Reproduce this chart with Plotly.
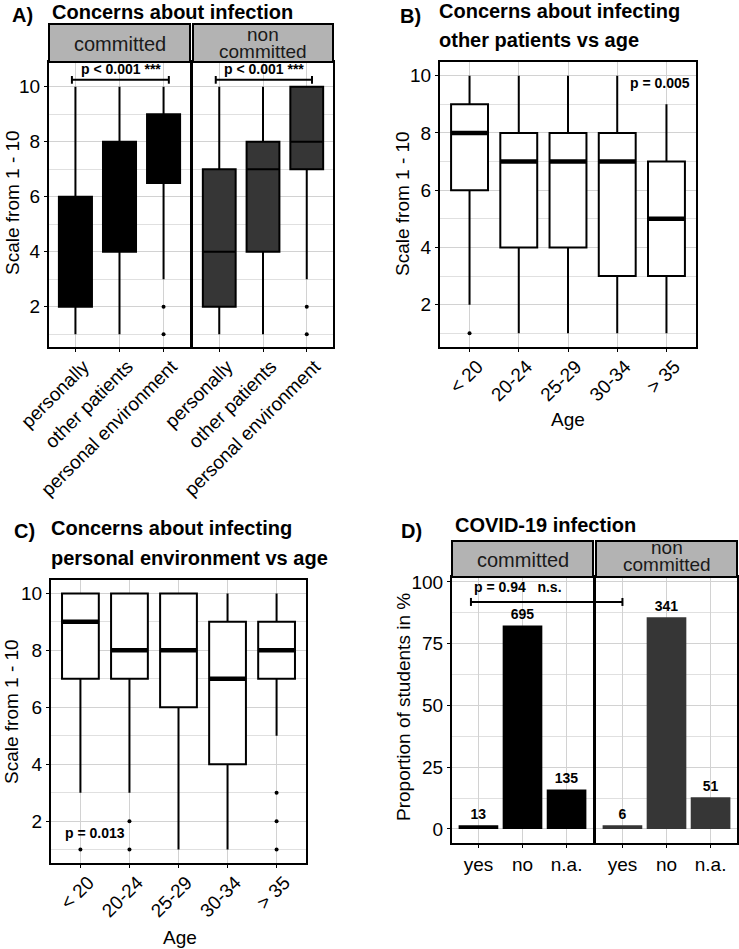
import plotly.graph_objects as go

W, H = 739, 949
FONT = "Liberation Sans, Arial, sans-serif"
GRID = "#d2d2d2"
MINOR = "#e0e0e0"
STRIP = "#b3b3b3"
DARK = "#363636"

# ---------------- data ----------------
a_labels = ["personally", "other patients", "personal environment"]
a_com_q1 = [2, 4, 6.5]
a_com_med = [4, 7, 8]
a_com_q3 = [6, 8, 9]
a_com_lo = [1, 1, 3]
a_com_hi = [10, 10, 10]
a_com_out_cat = [2, 2]
a_com_out_y = [2, 1]
a_non_q1 = [2, 4, 7]
a_non_med = [4, 7, 8]
a_non_q3 = [7, 8, 10]
a_non_lo = [1, 1, 3]
a_non_hi = [10, 10, 10]
a_non_out_cat = [2, 2]
a_non_out_y = [2, 1]

age_labels = ["< 20", "20-24", "25-29", "30-34", "> 35"]
b_q1 = [6, 4, 4, 3, 3]
b_med = [8, 7, 7, 7, 5]
b_q3 = [9, 8, 8, 8, 7]
b_lo = [2, 1, 1, 1, 1]
b_hi = [10, 10, 10, 10, 9]
b_out_cat = [0]
b_out_y = [1]

c_q1 = [7, 7, 6, 4, 7]
c_med = [9, 8, 8, 7, 8]
c_q3 = [10, 10, 10, 9, 9]
c_lo = [3, 3, 1, 1, 5]
c_hi = [10, 10, 10, 10, 10]
c_out_cat = [0, 1, 1, 4, 4, 4]
c_out_y = [1, 2, 1, 3, 2, 1]

d_labels = ["yes", "no", "n.a."]
d_com_counts = [13, 695, 135]
d_com_pct = [1.5, 82.4, 16.0]
d_non_counts = [6, 341, 51]
d_non_pct = [1.5, 85.7, 12.8]

# ---------------- layout geometry (pixels) ----------------
def px(x):
    return x / W

def py(y):
    return 1 - y / H

PAN = {
    "A1": ((49, 190), (62, 347), (-0.6, 2.6), (0.535, 10.9)),
    "A2": ((193, 333), (62, 347), (-0.6, 2.6), (0.535, 10.9)),
    "B": ((440, 696), (62, 347), (-0.6, 4.6), (0.52, 10.48)),
    "C": ((51, 306), (580, 863), (-0.6, 4.6), (0.53, 10.47)),
    "D1": ((452, 593), (577, 843), (-0.6, 2.6), (-5.7, 102.0)),
    "D2": ((596, 737), (577, 843), (-0.6, 2.6), (-5.7, 102.0)),
}


def to_paper_x(key, v):
    (x0, x1), _, (r0, r1), _ = PAN[key]
    return px(x0 + (v - r0) / (r1 - r0) * (x1 - x0))


def to_paper_y(key, v):
    _, (y0, y1), _, (r0, r1) = PAN[key]
    return py(y1 - (v - r0) / (r1 - r0) * (y1 - y0))


tickfont = dict(family=FONT, size=19, color="black")


def xaxis(key, labels, angle, anchor):
    (x0, x1), _, rng, _ = PAN[key]
    d = dict(domain=[px(x0), px(x1)], range=list(rng), anchor=anchor, automargin=False,
             tickmode="array", tickvals=list(range(len(labels))), ticktext=labels,
             tickangle=angle, showline=True, mirror=True, linecolor="black",
             linewidth=2, ticks="outside", ticklen=3, tickcolor="black", tickwidth=1,
             showgrid=True, gridcolor=GRID, gridwidth=1, zeroline=False,
             tickfont=tickfont, fixedrange=True)
    if angle:
        d.update(ticklabelshift=8, ticklabelstandoff=-4)
    return d


def yaxis(key, anchor, dtick, minor, labels=True):
    _, (y0, y1), _, rng = PAN[key]
    return dict(domain=[py(y1), py(y0)], range=list(rng), anchor=anchor, automargin=False,
                tick0=0, dtick=dtick, showline=True, mirror=True, linecolor="black",
                linewidth=2, ticks="outside" if labels else "", ticklen=3,
                tickcolor="black", tickwidth=1, showticklabels=labels,
                showgrid=True, gridcolor=GRID, gridwidth=1, zeroline=False,
                minor=dict(dtick=minor, tick0=0, showgrid=True, gridcolor=MINOR, gridwidth=0.8),
                tickfont=tickfont, fixedrange=True)


fig = go.Figure()


def add_boxes(xa, ya, q1, med, q3, lo, hi, fill, lw, median_w=None):
    pos = list(range(len(q1)))
    fig.add_trace(go.Box(x=pos, q1=q1, median=med, q3=q3, lowerfence=lo, upperfence=hi,
                         width=0.75, whiskerwidth=0, fillcolor=fill,
                         line=dict(color="black", width=lw), boxpoints=False,
                         xaxis=xa, yaxis=ya, showlegend=False, hoverinfo="skip"))
    if median_w:
        mx, my = [], []
        for p, m in zip(pos, med):
            mx += [p - 0.375, p + 0.375, None]
            my += [m, m, None]
        fig.add_trace(go.Scatter(x=mx, y=my, mode="lines",
                                 line=dict(color="black", width=median_w),
                                 xaxis=xa, yaxis=ya, showlegend=False, hoverinfo="skip"))


def add_outliers(xa, ya, cats, ys):
    fig.add_trace(go.Scatter(x=cats, y=ys, mode="markers",
                             marker=dict(color="black", size=4),
                             xaxis=xa, yaxis=ya, showlegend=False, hoverinfo="skip"))


# Panel A
add_boxes("x", "y", a_com_q1, a_com_med, a_com_q3, a_com_lo, a_com_hi, "black", 2)
add_outliers("x", "y", a_com_out_cat, a_com_out_y)
add_boxes("x2", "y2", a_non_q1, a_non_med, a_non_q3, a_non_lo, a_non_hi, DARK, 2)
add_outliers("x2", "y2", a_non_out_cat, a_non_out_y)
# Panel B
add_boxes("x3", "y3", b_q1, b_med, b_q3, b_lo, b_hi, "white", 2, 4.5)
add_outliers("x3", "y3", b_out_cat, b_out_y)
# Panel C
add_boxes("x4", "y4", c_q1, c_med, c_q3, c_lo, c_hi, "white", 2, 4.5)
add_outliers("x4", "y4", c_out_cat, c_out_y)
# Panel D
barfont = dict(family=FONT, size=14, color="black", weight="bold")
fig.add_trace(go.Bar(x=list(range(3)), y=d_com_pct, width=0.9, marker=dict(color="black", line=dict(width=0)),
                     text=[str(c) for c in d_com_counts], textposition="outside", textfont=barfont,
                     constraintext="none", cliponaxis=False,
                     xaxis="x5", yaxis="y5", showlegend=False, hoverinfo="skip"))
fig.add_trace(go.Bar(x=list(range(3)), y=d_non_pct, width=0.9, marker=dict(color=DARK, line=dict(width=0)),
                     text=[str(c) for c in d_non_counts], textposition="outside", textfont=barfont,
                     constraintext="none", cliponaxis=False,
                     xaxis="x6", yaxis="y6", showlegend=False, hoverinfo="skip"))

layout = dict(
    width=W, height=H, margin=dict(l=0, r=0, t=0, b=0, autoexpand=False),
    paper_bgcolor="white", plot_bgcolor="white", showlegend=False, bargap=0.1,
    xaxis=xaxis("A1", a_labels, -45, "y"),
    yaxis=yaxis("A1", "x", 2, 1),
    xaxis2=xaxis("A2", a_labels, -45, "y2"),
    yaxis2=yaxis("A2", "x2", 2, 1, labels=False),
    xaxis3=xaxis("B", age_labels, -45, "y3"),
    yaxis3=yaxis("B", "x3", 2, 1),
    xaxis4=xaxis("C", age_labels, -45, "y4"),
    yaxis4=yaxis("C", "x4", 2, 1),
    xaxis5=xaxis("D1", d_labels, 0, "y5"),
    yaxis5=yaxis("D1", "x5", 25, 12.5),
    xaxis6=xaxis("D2", d_labels, 0, "y6"),
    yaxis6=yaxis("D2", "x6", 25, 12.5, labels=False),
)
fig.update_layout(**layout)

shapes = []
# strips
for (x0, x1), (y0, y1) in [((49, 190), (24, 62)), ((193, 333), (24, 62)),
                           ((452, 593), (541, 577)), ((596, 737), (541, 577))]:
    shapes.append(dict(type="rect", xref="paper", yref="paper", x0=px(x0), x1=px(x1),
                       y0=py(y1), y1=py(y0), fillcolor=STRIP, line=dict(color="black", width=2),
                       layer="above"))

# significance brackets in panel A
for xa, ya in [("x", "y"), ("x2", "y2")]:
    bx0, bx1, by, cap = -0.08, 2.12, 10.25, 0.14
    shapes.append(dict(type="line", xref=xa, yref=ya, x0=bx0, x1=bx1, y0=by, y1=by,
                       line=dict(color="black", width=2)))
    for bx in (bx0, bx1):
        shapes.append(dict(type="line", xref=xa, yref=ya, x0=bx, x1=bx, y0=by - cap, y1=by + cap,
                           line=dict(color="black", width=2)))

# bracket across panels D
dl = to_paper_x("D1", -0.17)
dr = to_paper_x("D2", 0.0)
dy = to_paper_y("D1", 91.9)
capp = 4 / H
shapes.append(dict(type="line", xref="paper", yref="paper", x0=dl, x1=dr, y0=dy, y1=dy,
                   line=dict(color="black", width=2)))
for bx in (dl, dr):
    shapes.append(dict(type="line", xref="paper", yref="paper", x0=bx, x1=bx, y0=dy - capp, y1=dy + capp,
                       line=dict(color="black", width=2)))

fig.update_layout(shapes=shapes)

ann = []


def txt(x, y, s, size=20, bold=False, xanchor="center", angle=0, color="black"):
    ann.append(dict(xref="paper", yref="paper", x=px(x), y=py(y), text=s, showarrow=False,
                    xanchor=xanchor, yanchor="middle", textangle=angle,
                    font=dict(family=FONT, size=size, color=color, weight="bold" if bold else "normal")))


# panel letters and titles
txt(22, 15, "A)", 20, True)
txt(50, 12, "Concerns about infection", 20, True, "left")
txt(410, 16, "B)", 20, True)
txt(437, 11, "Concerns about infecting", 20, True, "left")
txt(437, 40, "other patients vs age", 20, True, "left")
txt(24, 531, "C)", 20, True)
txt(49, 528, "Concerns about infecting", 20, True, "left")
txt(49, 558, "personal environment vs age", 20, True, "left")
txt(411, 531, "D)", 20, True)
txt(453, 525, "COVID-19 infection", 20, True, "left")

# strip labels
txt(119.5, 44, "committed", 20, False, color="#1a1a1a")
txt(263, 34, "non", 19, False, color="#1a1a1a")
txt(263, 51, "committed", 19, False, color="#1a1a1a")
txt(522.5, 560, "committed", 20, False, color="#1a1a1a")
txt(666.5, 547, "non", 19, False, color="#1a1a1a")
txt(666.5, 564, "committed", 19, False, color="#1a1a1a")

# axis titles
txt(12, 203, "Scale from 1 - 10", 19, angle=-90)
txt(402, 203, "Scale from 1 - 10", 19, angle=-90)
txt(11, 712, "Scale from 1 - 10", 19, angle=-90)
txt(403, 707, "Proportion of students in %", 19, angle=-90)
txt(568, 420, "Age", 19)
txt(180, 937, "Age", 19)

fig.update_layout(annotations=ann)

# data-anchored p-value labels
pfont = dict(family=FONT, size=14, color="black", weight="bold")
fig.add_annotation(xref="x", yref="y", x=1.03, y=10.66, text="p < 0.001 ***", showarrow=False, font=pfont)
fig.add_annotation(xref="x2", yref="y2", x=1.03, y=10.66, text="p < 0.001 ***", showarrow=False, font=pfont)
fig.add_annotation(xref="x3", yref="y3", x=3.87, y=9.75, text="p = 0.005", showarrow=False, font=pfont)
fig.add_annotation(xref="x4", yref="y4", x=0.30, y=1.58, text="p = 0.013", showarrow=False, font=pfont)
fig.add_annotation(xref="x5", yref="y5", x=0.9, y=98.0, text="p = 0.94\u00a0\u00a0\u00a0n.s.", showarrow=False, font=pfont)

fig.write_html("out.html", config={"displayModeBar": False},
               post_script="document.body.style.margin='0';document.body.style.overflow='hidden';")
